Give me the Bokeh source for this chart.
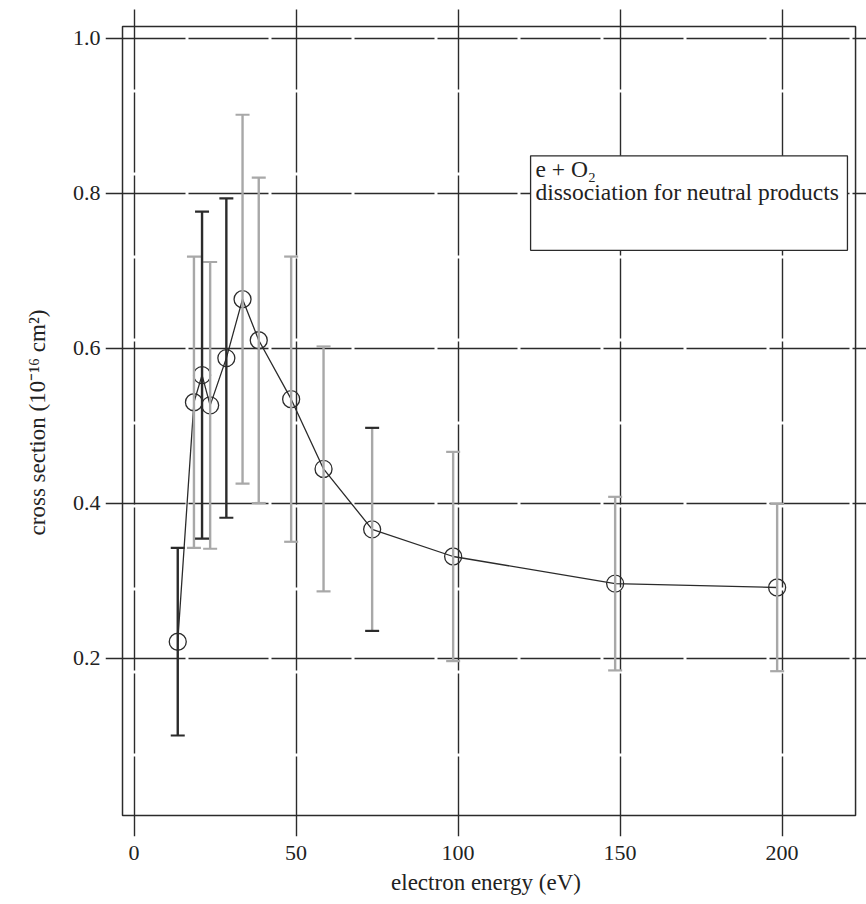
from bokeh.plotting import figure
from bokeh.models import (ColumnDataSource, Whisker, TeeHead, FixedTicker,
                          BoxAnnotation, Label, Range1d, PrintfTickFormatter)
from bokeh.embed import file_html
from bokeh.resources import INLINE

# ---- data ----
energy = [13.5, 18.5, 21, 23.5, 28.5, 33.5, 38.5, 48.5, 58.5, 73.5, 98.5, 148.5, 198.5]
cross = [0.221, 0.530, 0.565, 0.526, 0.587, 0.663, 0.610, 0.534, 0.444, 0.366, 0.331, 0.296, 0.291]
err = [0.121, 0.188, 0.211, 0.185, 0.206, 0.238, 0.210, 0.184, 0.158, 0.131, 0.135, 0.112, 0.108]
bar_tone = ["dark", "light", "dark", "light", "dark", "light", "light",
            "light", "light", "mixed", "light", "light", "light"]
x_ticks = [0, 50, 100, 150, 200]
y_ticks = [0.2, 0.4, 0.6, 0.8, 1.0]
legend_line1 = "e + O\u2082"
legend_line2 = "dissociation for neutral products"
x_title = "electron energy (eV)"
y_title = "cross section (10\u207b\u00b9\u2076 cm\u00b2)"

FONT = "Liberation Serif"
INK = "#2b2b2b"
TXT = "#222222"
GRAY = "#a8a8a8"

# plotting area extends past the drawn frame so the grid lines stick out like ticks
p = figure(width=866, height=904, output_backend="svg", toolbar_location=None,
           x_range=Range1d(-8.80, 226.08), y_range=Range1d(-0.0303, 1.0381),
           min_border_left=105, min_border_right=0, min_border_top=8,
           min_border_bottom=68)
p.outline_line_color = None
p.background_fill_color = "white"
p.border_fill_color = "white"

xt = FixedTicker(ticks=x_ticks, minor_ticks=[])
yt = FixedTicker(ticks=y_ticks, minor_ticks=[])

for ax in (p.xaxis[0], p.yaxis[0]):
    ax.axis_line_color = None
    ax.major_tick_line_color = None
    ax.minor_tick_line_color = None
    ax.major_tick_in = 0
    ax.major_tick_out = 0
    ax.major_label_text_font = FONT
    ax.major_label_text_font_size = "22px"
    ax.major_label_text_color = TXT
    ax.axis_label_text_font = FONT
    ax.axis_label_text_font_size = "23px"
    ax.axis_label_text_font_style = "normal"
    ax.axis_label_text_color = TXT

p.xaxis[0].ticker = xt
p.xaxis[0].axis_label = x_title
p.xaxis[0].major_label_standoff = 9
p.xaxis[0].axis_label_standoff = 7

p.yaxis[0].ticker = yt
p.yaxis[0].formatter = PrintfTickFormatter(format="%.1f")
p.yaxis[0].axis_label = y_title
p.yaxis[0].major_label_standoff = 5
p.yaxis[0].axis_label_standoff = 20

p.xgrid.ticker = xt
p.ygrid.ticker = yt
for g in (p.xgrid, p.ygrid):
    g.grid_line_color = INK
    g.grid_line_width = 1.4
    g.grid_line_dash = "80 3"

# drawn frame of the chart
frame = BoxAnnotation(left=-3.55, right=222.7, bottom=-0.0032, top=1.0148,
                      fill_color=None, fill_alpha=0, line_color=INK,
                      line_alpha=1.0, line_width=1.5, level="underlay")
p.add_layout(frame)

# ---- error bars ----
tone_colors = {"light": (GRAY, GRAY), "dark": (INK, INK), "mixed": (GRAY, INK)}
for tone, (bar_col, cap_col) in tone_colors.items():
    xs = [e for e, t in zip(energy, bar_tone) if t == tone]
    ys = [c for c, t in zip(cross, bar_tone) if t == tone]
    es = [d for d, t in zip(err, bar_tone) if t == tone]
    src = ColumnDataSource(data=dict(
        base=xs,
        upper=[y + d for y, d in zip(ys, es)],
        lower=[y - d for y, d in zip(ys, es)]))
    w = Whisker(source=src, base="base", upper="upper", lower="lower",
                line_color=bar_col, line_width=2.4,
                upper_head=TeeHead(size=14, line_color=cap_col, line_width=2.2),
                lower_head=TeeHead(size=14, line_color=cap_col, line_width=2.2),
                level="glyph")
    p.add_layout(w)

# ---- data line and open circles ----
src = ColumnDataSource(data=dict(x=energy, y=cross))
p.line("x", "y", source=src, line_color=INK, line_width=1.3)
p.scatter("x", "y", source=src, marker="circle", size=17, fill_color=None,
          line_color=INK, line_width=1.3)

# ---- legend box ----
box = BoxAnnotation(left=122.4, right=220.2, top=0.848, bottom=0.726,
                    fill_color="white", fill_alpha=1.0, line_color=INK,
                    line_alpha=1.0, line_width=1.3)
p.add_layout(box)
for txt, yy in ((legend_line1, 0.8316), (legend_line2, 0.801)):
    p.add_layout(Label(x=123.9, y=yy, text=txt, text_font=FONT,
                       text_font_size="23.5px", text_color=TXT,
                       text_baseline="middle", text_align="left"))

open("out.html", "w").write(file_html(p, INLINE))
